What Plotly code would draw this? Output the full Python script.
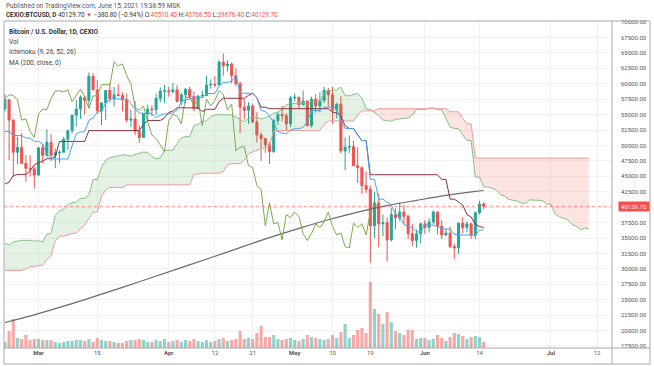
import numpy as np
import pandas as pd
import plotly.graph_objects as go

# ---------------- data ----------------
dates = pd.date_range("2021-02-21", "2021-06-15", freq="D")

open_ = [55900, 57400, 54100, 48900, 49700, 47100, 46300, 46200,
         45200, 49600, 48400, 50500, 48400, 48800, 48900, 51000, 52400, 54900,
         55900, 57800, 57300, 61200, 59000, 55600, 56900, 58900, 57600, 58200,
         58100, 57400, 54100, 54300, 52300, 51300, 55100, 55900, 55800, 57600, 58800,
         58850, 58700, 59000, 57100, 58200, 59100, 57900, 56000, 58000, 58100,
         59800, 59900, 59800, 63500, 62900, 63200, 61300, 60000, 56200, 55700,
         56400, 53800, 51700, 51100, 50100, 49000, 54000, 55000, 54800, 53500,
         57700, 57800, 56600, 57200, 53200, 57500, 56400, 57300, 58900, 58200,
         55800, 56700, 49100, 49700, 49800, 46700, 46400, 43500, 42900, 37000,
         40700, 37300, 37500, 34700, 38800, 38300, 39200, 38500, 35700, 34600, 35700,
         37300, 36700, 37600, 39200, 36900, 35500, 35800, 33600, 33400, 37400,
         36700, 37300, 35500, 39100, 40510.4]
high = [58300, 57500, 54200, 51400, 52000, 48400, 48400, 46600,
        49800, 50200, 52600, 51800, 49500, 49200, 51400, 52400, 54900, 57400,
        58100, 58000, 61800, 61700, 60600, 56900, 58900, 60100, 59500, 59900,
        58600, 58400, 55800, 57200, 53200, 55100, 56600, 56500, 58400, 59400, 59800,
        59500, 60100, 59800, 58500, 59300, 59500, 58700, 58200, 58900, 61300,
        60700, 61200, 63800, 64900, 63800, 63500, 62500, 60400, 57500, 57000,
        56800, 55400, 52100, 51200, 50500, 54300, 55400, 56400, 55200, 58000,
        58400, 57900, 58900, 57200, 57900, 58300, 58600, 59500, 59300, 59500,
        56900, 58000, 51300, 51600, 50700, 49700, 46600, 45800, 43500, 42500,
        42200, 38800, 38300, 39900, 39800, 40800, 40400, 38800, 37300, 36400, 37500,
        37900, 38200, 39500, 39300, 37900, 36500, 36800, 34100, 37500, 38400,
        37700, 37500, 39300, 41000, 40768.5]
low = [55500, 47600, 44900, 47000, 47100, 44100, 45000, 43000,
       45000, 47100, 48100, 47500, 46300, 47100, 48900, 49300, 51900, 53100,
       54300, 55000, 56100, 59000, 55100, 53300, 54100, 57000, 56300, 57900,
       55500, 53700, 53000, 51700, 50400, 51300, 54100, 54700, 54900, 57000, 56900,
       57900, 58500, 57000, 56500, 56800, 57600, 55500, 55900, 57700, 58000,
       59200, 59400, 59800, 61300, 62000, 60000, 59600, 52000, 54200, 53500,
       53600, 50500, 47500, 48800, 47000, 48800, 53300, 53900, 52400, 53000,
       57100, 56000, 56500, 53100, 52900, 55300, 55400, 56900, 56300, 53500,
       54400, 48700, 46000, 48800, 46700, 43900, 42100, 42300, 31000, 35000,
       33500, 35300, 31200, 34400, 36400, 37800, 37200, 34800, 33700, 33400, 34200,
       35700, 35900, 37200, 35600, 34800, 35300, 33400, 31600, 32400, 35800,
       35900, 34800, 34800, 38800, 39676.4]
close = [57400, 54100, 48900, 49700, 47100, 46300, 46200, 45200,
         49600, 48400, 50500, 48400, 48800, 48900, 51000, 52400, 54900, 55900,
         57800, 57300, 61200, 59000, 55600, 56900, 58900, 57600, 58200, 58100,
         57400, 54100, 54300, 52300, 51300, 55100, 55900, 55800, 57600, 58800, 58850,
         58700, 59000, 57100, 58200, 59100, 57900, 56000, 58000, 58100, 59800,
         59900, 59800, 63500, 62900, 63200, 61300, 60000, 56200, 55700, 56400,
         53800, 51700, 51100, 50100, 49000, 54000, 55000, 54800, 53500, 57700,
         57800, 56600, 57200, 53200, 57500, 56400, 57300, 58900, 58200, 55800,
         56700, 49100, 49700, 49800, 46700, 46400, 43500, 42900, 37000, 40700,
         37300, 37500, 34700, 38800, 38300, 39200, 38500, 35700, 34600, 35700, 37300,
         36700, 37600, 39200, 36900, 35500, 35800, 33600, 33400, 37400, 36700,
         37300, 35500, 39100, 40500, 40129.7]
volume = [600, 1700, 2900, 1000, 900, 1300, 800, 900,
          900, 800, 800, 800, 600, 500, 600, 700, 700, 800,
          800, 700, 900, 600, 1000, 800, 700, 700, 600, 500,
          500, 700, 800, 800, 900, 800, 600, 600, 800, 700, 900,
          600, 700, 800, 600, 800, 700, 900, 700, 600, 800,
          600, 700, 900, 1000, 700, 800, 900, 1700, 900, 1000,
          900, 1500, 2200, 1100, 1100, 1300, 900, 800, 900, 1000,
          800, 700, 900, 1300, 1100, 1000, 900, 800, 900, 1300,
          1000, 1600, 2400, 1000, 1300, 1800, 2000, 1500, 6600, 3900,
          3400, 2400, 3600, 2600, 1700, 1500, 1300, 1800, 1800, 900, 1000,
          1000, 800, 900, 1300, 1000, 700, 1100, 1500, 1400, 1200,
          900, 1100, 1200, 1100, 600]

conversion = [52250, 52300, 51600, 51600, 51600, 51200, 51200, 50650,
              50650, 50250, 48600, 47800, 47800, 47800, 47800, 47800, 49950, 51850,
              52200, 52200, 54050, 54450, 55350, 55550, 56850, 57450, 57550, 57550,
              57550, 57500, 56800, 55900, 55250, 55250, 55150, 55150, 54500, 54900, 55100,
              55100, 55250, 55700, 57100, 57400, 57500, 57800, 57800, 57800, 58400,
              58400, 58400, 59650, 60200, 60200, 60400, 61300, 58450, 58450, 58450,
              58450, 57700, 55650, 55500, 54750, 53700, 52250, 52000, 51900, 52500,
              52700, 52700, 52950, 53850, 55650, 55650, 55650, 56200, 56200, 56200,
              56200, 54100, 52750, 52750, 52750, 51700, 50800, 50800, 44500, 44500,
              41300, 41300, 40850, 40350, 38800, 38400, 37250, 36850, 36700, 36000, 36000,
              37100, 37100, 37100, 36900, 36450, 36450, 36450, 35550, 35550, 35550,
              35550, 35450, 35450, 36300, 36300]
base = [43750, 44050, 45100, 45300, 45300, 45300, 45850, 46850,
        47200, 47450, 47850, 47850, 48150, 50650, 50650, 50650, 50650, 50650,
        50650, 50650, 52400, 52400, 52400, 52400, 52400, 52400, 52400, 52400,
        52400, 52400, 52400, 52400, 52400, 53400, 54050, 54050, 54050, 54050, 54450,
        55350, 55550, 56100, 56100, 56100, 56100, 56100, 56050, 55500, 55850,
        55850, 55850, 57100, 57650, 57650, 57650, 57650, 57650, 57650, 58100,
        58450, 57700, 56200, 56200, 55950, 55950, 55950, 55950, 55950, 55950,
        55950, 55950, 55950, 55950, 55950, 55950, 55950, 55950, 55950, 55400,
        55250, 54750, 53200, 52750, 52750, 51700, 50800, 50800, 45250, 45250,
        45250, 45250, 45250, 45250, 45250, 45250, 45250, 45250, 45250, 45250, 45250,
        45250, 45250, 45250, 45250, 44500, 44500, 41300, 41300, 40850, 40350,
        38800, 38400, 37250, 36850, 36700]

lead_dates = pd.date_range("2021-02-21", "2021-07-10", freq="D")
lead_a = [34175, 33825, 34350, 34550, 34625, 34625, 34625, 34500,
          34550, 34350, 35650, 35750, 38650, 39400, 39675, 40425, 40700, 40825,
          41425, 41425, 41975, 44475, 44475, 46425, 47600, 48000, 48175, 48350,
          48450, 48450, 48250, 48525, 48750, 48925, 48850, 48225, 47825, 47975, 49225,
          49225, 49225, 50300, 51250, 51425, 51425, 53225, 53425, 53875, 53975,
          54625, 54925, 54975, 54975, 54975, 54950, 54600, 54150, 53825, 54325,
          54600, 54600, 54275, 54475, 54775, 55225, 55400, 55900, 56600, 56750,
          56800, 56950, 56925, 56650, 57125, 57125, 57125, 58375, 58925, 58925,
          59025, 59475, 58050, 58050, 58275, 58450, 57700, 55925, 55850, 55350,
          54825, 54100, 53975, 53925, 54225, 54325, 54325, 54450, 54900, 55800, 55800,
          55800, 56075, 56075, 55800, 55725, 54425, 52975, 52750, 52750, 51700,
          50800, 50800, 44875, 44875, 43275, 43275, 43050, 42800, 42025, 41825,
          41250, 41050, 40975, 40625, 40625, 41175, 41175, 41175, 41075, 40475,
          40475, 38875, 38425, 38200, 37950, 37175, 36925, 36350, 36575, 36500]
lead_b = [29750, 29750, 29750, 29750, 29750, 29950, 30400, 30400,
          30450, 30600, 31550, 32100, 34550, 35300, 35300, 35550, 35750, 35800,
          36550, 37100, 38150, 39200, 39200, 41800, 42750, 43200, 43200, 43200,
          43200, 43600, 43600, 43600, 43600, 43600, 43600, 43600, 43600, 43600, 43600,
          43600, 43600, 43600, 43600, 43600, 43600, 45350, 45350, 45500, 45500,
          45500, 45500, 45500, 45800, 46850, 47050, 47050, 47050, 47600, 48600,
          48950, 49200, 49600, 49600, 49900, 52400, 52400, 52400, 52400, 52400,
          52400, 52400, 52400, 52400, 52400, 52400, 52400, 53400, 53950, 53950,
          53950, 53950, 53950, 53950, 53950, 54950, 55600, 55600, 55600, 55600,
          55950, 55950, 55950, 55950, 55950, 55950, 55950, 55950, 55950, 55950, 55950,
          55950, 55950, 55950, 55950, 55950, 55950, 55450, 55450, 55450, 54400,
          53500, 53500, 47950, 47950, 47950, 47950, 47950, 47950, 47950, 47950,
          47950, 47950, 47950, 47950, 47950, 47950, 47950, 47950, 47950, 47950,
          47950, 47950, 47950, 47950, 47950, 47950, 47950, 47950, 47950, 47950]

ma_dates = ["2021-02-21", "2021-02-28", "2021-03-07", "2021-03-14", "2021-03-21",
            "2021-03-28", "2021-04-04", "2021-04-11", "2021-04-18", "2021-04-25",
            "2021-05-02", "2021-05-09", "2021-05-16", "2021-05-23", "2021-05-30",
            "2021-06-06", "2021-06-13", "2021-06-15"]
ma200 = [21300, 22550, 23950, 25450, 27000, 28600, 30200, 31800, 33450, 35050,
         36550, 37950, 39200, 40250, 41100, 41900, 42550, 42700]

last_price = 40129.7
price_ticks = list(range(17500, 70001, 2500))
x_tick_dates = ["2021-03-01", "2021-03-15", "2021-04-01", "2021-04-12", "2021-04-21",
                "2021-05-01", "2021-05-10", "2021-05-19", "2021-06-01", "2021-06-14",
                "2021-07-01", "2021-07-12"]
x_tick_text = ["<b>Mar</b>", "15", "<b>Apr</b>", "12", "21", "<b>May</b>", "10", "19",
               "<b>Jun</b>", "14", "<b>Jul</b>", "12"]
lag_shift = 25

# ---------------- figure ----------------
UP, DOWN = "#26a69a", "#ef5350"
vol_colors = ["rgba(38,166,154,0.5)" if c >= o else "rgba(239,83,80,0.5)"
              for o, c in zip(open_, close)]

fig = go.Figure()
fig.add_trace(go.Bar(x=dates, y=volume, marker_color=vol_colors, marker_line_width=0,
                     yaxis="y", hoverinfo="skip"))

a = np.array(lead_a, dtype=float)
b = np.array(lead_b, dtype=float)
upper = np.maximum(a, b)
fig.add_trace(go.Scatter(x=lead_dates, y=b, mode="lines", line=dict(width=0), yaxis="y2", hoverinfo="skip"))
fig.add_trace(go.Scatter(x=lead_dates, y=upper, mode="lines", line=dict(width=0), fill="tonexty",
                         fillcolor="rgba(67,160,71,0.14)", yaxis="y2", hoverinfo="skip"))
fig.add_trace(go.Scatter(x=lead_dates, y=a, mode="lines", line=dict(width=0), yaxis="y2", hoverinfo="skip"))
fig.add_trace(go.Scatter(x=lead_dates, y=upper, mode="lines", line=dict(width=0), fill="tonexty",
                         fillcolor="rgba(244,67,54,0.14)", yaxis="y2", hoverinfo="skip"))

fig.add_trace(go.Scatter(x=lead_dates, y=a, mode="lines", line=dict(color="#86c286", width=1), yaxis="y2"))
fig.add_trace(go.Scatter(x=lead_dates, y=b, mode="lines", line=dict(color="#ef9a9a", width=1), yaxis="y2"))
fig.add_trace(go.Scatter(x=ma_dates, y=ma200, mode="lines",
                         line=dict(color="#6b6b6b", width=1.2, shape="spline"), yaxis="y2"))
fig.add_trace(go.Scatter(x=dates[:-lag_shift], y=close[lag_shift:], mode="lines",
                         line=dict(color="#7aac4e", width=1), yaxis="y2"))
fig.add_trace(go.Scatter(x=dates, y=base, mode="lines", line=dict(color="#8e2f3b", width=1), yaxis="y2"))
fig.add_trace(go.Scatter(x=dates, y=conversion, mode="lines", line=dict(color="#4aa3f0", width=1), yaxis="y2"))

fig.add_trace(go.Candlestick(x=dates, open=open_, high=high, low=low, close=close, yaxis="y2",
                             increasing=dict(line=dict(color=UP, width=1), fillcolor=UP),
                             decreasing=dict(line=dict(color=DOWN, width=1), fillcolor=DOWN),
                             whiskerwidth=0, hoverinfo="skip"))

FONT = "Roboto, Arial, sans-serif"
GRID = "#f1f1f1"
FRAME = "#a8a8a8"

fig.update_layout(
    width=654, height=366, autosize=False,
    margin=dict(l=4, r=42, t=21, b=18, pad=0),
    paper_bgcolor="white", plot_bgcolor="white",
    showlegend=False, bargap=0.25,
    font=dict(family=FONT, size=6, color="#555"),
    xaxis=dict(type="date", range=["2021-02-20 19:00", "2021-07-15 13:00"],
               tickvals=x_tick_dates, ticktext=x_tick_text, ticks="",
               showgrid=True, gridcolor=GRID, zeroline=False, showline=False,
               rangeslider=dict(visible=False), tickfont=dict(size=6, color="#555")),
    yaxis=dict(range=[0, 32700], visible=False, showgrid=False),
    yaxis2=dict(overlaying="y", side="right", range=[17175, 70162],
                tickvals=price_ticks, tickformat=".2f", ticks="",
                showgrid=True, gridcolor=GRID, zeroline=False, showline=False,
                ticklabelstandoff=8, tickfont=dict(size=6, color="#555")),
)

fig.add_shape(type="line", xref="paper", yref="y2", x0=0, x1=1, y0=last_price, y1=last_price,
              line=dict(color="rgba(239,83,80,0.6)", width=1, dash="dot"))
# frame
fig.add_shape(type="rect", xref="paper", yref="paper", x0=0, x1=1.0625, y0=-0.049, y1=1.0,
              line=dict(color=FRAME, width=1))
fig.add_shape(type="line", xref="paper", yref="paper", x0=1, x1=1, y0=-0.049, y1=1.0,
              line=dict(color=FRAME, width=1))
fig.add_shape(type="line", xref="paper", yref="paper", x0=0, x1=1.0625, y0=0, y1=0,
              line=dict(color=FRAME, width=1))

fig.add_annotation(xref="paper", yref="y2", x=1.036, y=last_price, text="40129.70",
                   showarrow=False, font=dict(size=6, color="white"), bgcolor=DOWN,
                   borderpad=1, width=28, xanchor="center", yanchor="middle")

R = "#ef5350"
header = ("<b>CEXIO:BTCUSD, D</b> 40129.70 <span style='color:%s'>▼</span> −380.80 (−0.94%%) "
          "O:<span style='color:%s'>40510.40</span> H:<span style='color:%s'>40768.50</span> "
          "L:<span style='color:%s'>39676.40</span> C:<span style='color:%s'>40129.70</span>") % (R, R, R, R, R)
texts = [
    ("Published on TradingView.com, June 15, 2021 19:38:59 MSK", 0.0, 1.046, "#555", 6.5),
    (header, 0.0, 1.018, "#333", 6.3),
    ("<b>Bitcoin / U.S. Dollar, 1D, CEXIO</b>", 0.005, 0.966, "#333", 6.5),
    ("Vol", 0.005, 0.936, "#444", 6.5),
    ("Ichimoku (9, 26, 52, 26)", 0.005, 0.904, "#444", 6.5),
    ("MA (200, close, 0)", 0.005, 0.872, "#444", 6.5),
]
for t, x, y, c, s in texts:
    fig.add_annotation(xref="paper", yref="paper", x=x, y=y, text=t, showarrow=False,
                       xanchor="left", yanchor="middle", font=dict(size=s, color=c, family=FONT))

fig.write_html("out.html", config={"displayModeBar": False}, post_script=(
    "document.body.style.margin='0';document.body.style.padding='0';"
    "document.body.style.overflow='hidden';document.documentElement.style.overflow='hidden';"))
